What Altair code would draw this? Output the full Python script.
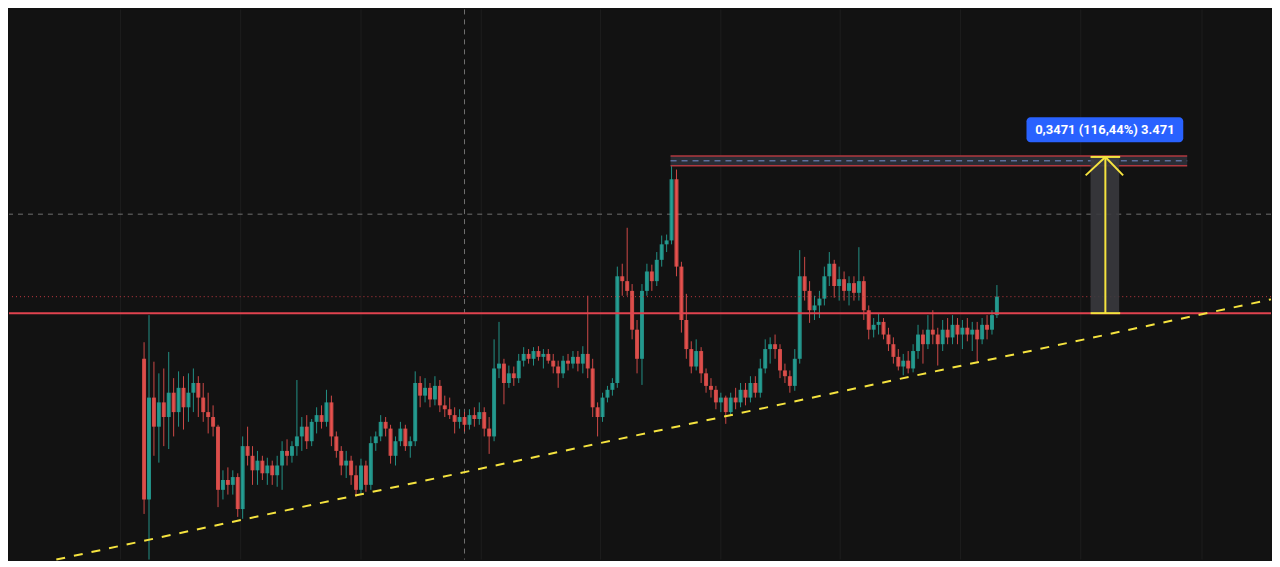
import altair as alt
import pandas as pd

# ---------------- data (log price scale) ----------------
first_open = 0.2379
closes = [
    0.1187, 0.1964, 0.1701, 0.1918, 0.1784, 0.2012, 0.1828, 0.2061, 0.1872, 0.2012,
    0.2111, 0.1964, 0.1828, 0.1784, 0.1701, 0.1245, 0.1307, 0.1276, 0.1326, 0.1132,
    0.1545, 0.1473, 0.1371, 0.1438, 0.1351, 0.1404, 0.1338, 0.1404, 0.1509, 0.1473,
    0.1545, 0.1621, 0.1701, 0.1583, 0.1742, 0.1801, 0.1742, 0.1918, 0.1621, 0.1509,
    0.1404, 0.1438, 0.1338, 0.1245, 0.1404, 0.1276, 0.1568, 0.1621, 0.1742, 0.1685,
    0.1473, 0.1583, 0.1685, 0.1545, 0.1583, 0.2111, 0.1983, 0.2061, 0.1946, 0.2081,
    0.1890, 0.1854, 0.1801, 0.1742, 0.1784, 0.1717, 0.1801, 0.1767, 0.1828, 0.1685,
    0.1621, 0.2268, 0.2323, 0.2111, 0.2214, 0.2162, 0.2357, 0.2437, 0.2379, 0.2472,
    0.2402, 0.2437, 0.2357, 0.2290, 0.2214, 0.2357, 0.2323, 0.2402, 0.2323, 0.2437,
    0.2268, 0.1872, 0.1784, 0.1964, 0.2041, 0.2111, 0.3577, 0.3492, 0.3328, 0.2747,
    0.2379, 0.3328, 0.3663, 0.3492, 0.3880, 0.4189, 0.4271, 0.5778, 0.3752, 0.2882,
    0.2496, 0.2290, 0.2472, 0.2214, 0.2081, 0.2041, 0.1918, 0.1964, 0.1828, 0.1964,
    0.1918, 0.2041, 0.1964, 0.2111, 0.2012, 0.2268, 0.2496, 0.2557, 0.2496, 0.2246,
    0.2183, 0.2081, 0.2379, 0.3577, 0.3328, 0.3024, 0.3097, 0.3203, 0.3577, 0.3806,
    0.3409, 0.3526, 0.3328, 0.3458, 0.3296, 0.3492, 0.3024, 0.2747, 0.2814, 0.2855,
    0.2682, 0.2557, 0.2402, 0.2290, 0.2357, 0.2268, 0.2472, 0.2682, 0.2557, 0.2747,
    0.2682, 0.2557, 0.2747, 0.2644, 0.2814, 0.2682, 0.2774, 0.2682, 0.2747, 0.2619,
    0.2814, 0.2747, 0.2952, 0.3234,
]
highs = [
    0.2582, 0.2952, 0.2345, 0.2214, 0.2268, 0.2461, 0.2162, 0.2236, 0.2183, 0.2214,
    0.2268, 0.2183, 0.2111, 0.2012, 0.1890, 0.1717, 0.1371, 0.1391, 0.1371, 0.1351,
    0.1621, 0.1701, 0.1545, 0.1509, 0.1473, 0.1459, 0.1438, 0.1473, 0.1583, 0.1598,
    0.1583, 0.2142, 0.1784, 0.1801, 0.1767, 0.1872, 0.1890, 0.2041, 0.1983, 0.1661,
    0.1545, 0.1509, 0.1473, 0.1404, 0.1452, 0.1438, 0.1621, 0.1661, 0.1801, 0.1784,
    0.1717, 0.1621, 0.1742, 0.1717, 0.1621, 0.2236, 0.2183, 0.2162, 0.2111, 0.2183,
    0.2142, 0.1983, 0.1964, 0.1872, 0.1854, 0.1828, 0.1854, 0.1872, 0.1918, 0.1872,
    0.1784, 0.2619, 0.2855, 0.2379, 0.2301, 0.2290, 0.2437, 0.2520, 0.2496, 0.2520,
    0.2532, 0.2496, 0.2496, 0.2437, 0.2357, 0.2414, 0.2437, 0.2472, 0.2472, 0.2532,
    0.3249, 0.2379, 0.1918, 0.2012, 0.2081, 0.2162, 0.3752, 0.3806, 0.4546, 0.3442,
    0.2882, 0.3442, 0.3806, 0.3788, 0.4032, 0.4375, 0.4396, 0.6421, 0.6062, 0.3843,
    0.3280, 0.2594, 0.2619, 0.2520, 0.2268, 0.2162, 0.2081, 0.2012, 0.1983, 0.2012,
    0.2061, 0.2111, 0.2111, 0.2183, 0.2183, 0.2379, 0.2619, 0.2645, 0.2682, 0.2557,
    0.2323, 0.2246, 0.2496, 0.4071, 0.3937, 0.3492, 0.3249, 0.3328, 0.3752, 0.4032,
    0.3880, 0.3752, 0.3663, 0.3577, 0.3577, 0.4130, 0.3577, 0.3097, 0.2910, 0.2981,
    0.2910, 0.2773, 0.2645, 0.2496, 0.2437, 0.2472, 0.2557, 0.2814, 0.2747, 0.2952,
    0.3024, 0.2773, 0.2882, 0.2910, 0.2952, 0.2910, 0.2882, 0.2910, 0.2855, 0.2855,
    0.2910, 0.2952, 0.3024, 0.3425,
]
lows = [
    0.1105, 0.0882, 0.1473, 0.1424, 0.1545, 0.1523, 0.1621, 0.1701, 0.1677, 0.1742,
    0.1828, 0.1784, 0.1742, 0.1645, 0.1621, 0.1143, 0.1187, 0.1216, 0.1216, 0.1089,
    0.1079, 0.1404, 0.1276, 0.1276, 0.1307, 0.1276, 0.1276, 0.1264, 0.1245, 0.1404,
    0.1424, 0.1473, 0.1509, 0.1523, 0.1545, 0.1645, 0.1685, 0.1701, 0.1545, 0.1459,
    0.1338, 0.1320, 0.1276, 0.1204, 0.1216, 0.1233, 0.1245, 0.1509, 0.1583, 0.1621,
    0.1417, 0.1404, 0.1545, 0.1509, 0.1459, 0.1545, 0.1872, 0.1918, 0.1872, 0.1890,
    0.1828, 0.1784, 0.1767, 0.1645, 0.1685, 0.1661, 0.1677, 0.1701, 0.1717, 0.1621,
    0.1487, 0.1583, 0.2162, 0.1900, 0.2061, 0.2081, 0.2111, 0.2290, 0.2323, 0.2301,
    0.2357, 0.2268, 0.2323, 0.2214, 0.2061, 0.2162, 0.2246, 0.2268, 0.2236, 0.2214,
    0.2162, 0.1784, 0.1621, 0.1742, 0.1918, 0.1983, 0.2061, 0.3249, 0.3249, 0.2619,
    0.2214, 0.2091, 0.3249, 0.3328, 0.3409, 0.3752, 0.4032, 0.4189, 0.3577, 0.2708,
    0.2379, 0.2214, 0.2246, 0.2111, 0.2012, 0.1964, 0.1854, 0.1828, 0.1725, 0.1801,
    0.1854, 0.1872, 0.1890, 0.1918, 0.1964, 0.1964, 0.2214, 0.2323, 0.2379, 0.2162,
    0.2111, 0.2012, 0.2031, 0.2323, 0.3172, 0.2841, 0.2882, 0.2910, 0.3097, 0.3409,
    0.3218, 0.3172, 0.3172, 0.3097, 0.3172, 0.3172, 0.2882, 0.2619, 0.2644, 0.2682,
    0.2619, 0.2472, 0.2323, 0.2246, 0.2193, 0.2214, 0.2225, 0.2379, 0.2323, 0.2496,
    0.2557, 0.2301, 0.2472, 0.2557, 0.2557, 0.2557, 0.2496, 0.2594, 0.2472, 0.2345,
    0.2557, 0.2619, 0.2682, 0.2910,
]

base_price = 0.2981          # horizontal level (red line)
target_price = 0.6452        # measured target
last_price = 0.3234          # dotted last-price line
cross_price = 0.4862         # crosshair horizontal
cross_bar = 65               # crosshair vertical (bar index)
grid_bars = [-4.8, 19.6, 44, 68.4, 92.6, 117, 141.2, 165.6, 190, 214.6]
trend_pts = {"x": [-17.8], "y": [0.0882], "x2": [228.6], "y2": [0.3191]}
zone = {"x": 106.8, "x2": 211.6, "top": 0.6484, "mid": 0.6330, "bottom": 0.6180}
label_text = "0,3471 (116,44%) 3.471"

# ---------------- build ----------------
opens = [first_open] + closes[:-1]
df = pd.DataFrame({"i": list(range(len(closes))), "open": opens, "high": highs,
                   "low": lows, "close": closes})
df["high"] = df[["high", "open", "close"]].max(axis=1)
df["low"] = df[["low", "open", "close"]].min(axis=1)
df["dir"] = ["up" if c >= o else "down" for o, c in zip(opens, closes)]

BG = "#121212"
TEAL = "#26a69a"
RED = "#ef5350"
YEL = "#f5e33f"

xs = alt.Scale(domain=[-27.4, 228.6], nice=False, zero=False, padding=0)
ys = alt.Scale(type="log", domain=[0.0882, 1.3375], nice=False, padding=0)


def X(f):
    return alt.X(f, type="quantitative", scale=xs, axis=None)


def Y(f):
    return alt.Y(f, type="quantitative", scale=ys, axis=None)


grid = alt.Chart(pd.DataFrame({"g": grid_bars})).mark_rule(
    color="#1e1e1e", strokeWidth=1).encode(x=X("g"))

cross_v = alt.Chart(pd.DataFrame({"g": [cross_bar]})).mark_rule(
    color="#6e6e6e", strokeWidth=1, strokeDash=[5, 5]).encode(x=X("g"))
cross_h = alt.Chart(pd.DataFrame({"p": [cross_price]})).mark_rule(
    color="#6e6e6e", strokeWidth=1, strokeDash=[5, 5]).encode(y=Y("p"))

color = alt.Color("dir:N", scale=alt.Scale(domain=["up", "down"], range=[TEAL, RED]),
                  legend=None)
base = alt.Chart(df)
wicks = base.mark_rule(strokeWidth=1, opacity=0.85).encode(
    x=X("i"), y=Y("low"), y2="high", color=color)
bodies = base.mark_bar(size=4, opacity=0.85).encode(
    x=X("i"), y=Y("open"), y2="close", color=color)

dotted = alt.Chart(pd.DataFrame({"p": [last_price]})).mark_rule(
    color="#c23a42", strokeWidth=1, strokeDash=[1, 3]).encode(y=Y("p"))
redline = alt.Chart(pd.DataFrame({"p": [base_price]})).mark_rule(
    color="#e0434f", strokeWidth=2).encode(y=Y("p"))

trend = alt.Chart(pd.DataFrame(trend_pts)).mark_rule(
    color=YEL, strokeWidth=2, strokeDash=[9, 9]).encode(
    x=X("x"), x2="x2", y=Y("y"), y2="y2")

zone_df = pd.DataFrame({"x": [zone["x"]], "x2": [zone["x2"]],
                        "top": [zone["top"]], "bottom": [zone["bottom"]],
                        "mid": [zone["mid"]]})
zone_rect = alt.Chart(zone_df).mark_rect(color="#2a2d35").encode(
    x=X("x"), x2="x2", y=Y("bottom"), y2="top")
zone_top = alt.Chart(zone_df).mark_rule(color="#b0383f", strokeWidth=1.5).encode(
    x=X("x"), x2="x2", y=Y("top"))
zone_bot = alt.Chart(zone_df).mark_rule(color="#b0383f", strokeWidth=1.5).encode(
    x=X("x"), x2="x2", y=Y("bottom"))
zone_mid = alt.Chart(zone_df).mark_rule(color="#5d6f9c", strokeWidth=1.5,
                                        strokeDash=[6, 5]).encode(
    x=X("x"), x2="x2", y=Y("mid"))

arrow_df = pd.DataFrame({"x": [192.0], "x2": [197.8], "xc": [195.0],
                         "y": [base_price], "y2": [target_price]})
band = alt.Chart(arrow_df).mark_rect(color="#3a3a3e", opacity=0.9).encode(
    x=X("x"), x2="x2", y=Y("y"), y2="y2")
arrow_v = alt.Chart(arrow_df).mark_rule(color=YEL, strokeWidth=2).encode(
    x=X("xc"), y=Y("y"), y2="y2")
ticks = alt.Chart(pd.DataFrame({"x": [192.0, 192.0], "x2": [198.0, 198.0],
                                "y": [base_price, target_price]})).mark_rule(
    color=YEL, strokeWidth=2).encode(x=X("x"), x2="x2", y=Y("y"))
heads = alt.Chart(pd.DataFrame({"x": [195.0, 195.0], "x2": [191.0, 198.6],
                                "y": [target_price, target_price],
                                "y2": [0.589, 0.589]})).mark_rule(
    color=YEL, strokeWidth=2).encode(x=X("x"), x2="x2", y=Y("y"), y2="y2")

lab_df = pd.DataFrame({"x": [179.0], "x2": [210.8], "xc": [194.9],
                       "y": [0.6934], "y2": [0.7854], "yc": [0.7379],
                       "t": [label_text]})
lab_rect = alt.Chart(lab_df).mark_rect(color="#2962ff", cornerRadius=4).encode(
    x=X("x"), x2="x2", y=Y("y"), y2="y2")
lab_text = alt.Chart(lab_df).mark_text(color="white", font="Roboto", fontSize=13,
                                       fontWeight="bold", align="center",
                                       baseline="middle").encode(
    x=X("xc"), y=Y("yc"), text="t:N")

chart = alt.layer(
    grid, cross_v, cross_h, wicks, bodies, dotted, redline, trend,
    zone_rect, zone_top, zone_bot, zone_mid, band, arrow_v, ticks, heads,
    lab_rect, lab_text,
).properties(
    width=1264, height=551, padding=0, background=BG,
).configure_view(strokeWidth=0, fill=BG)

chart.save("out.html", embed_options={"renderer": "svg", "actions": False})
